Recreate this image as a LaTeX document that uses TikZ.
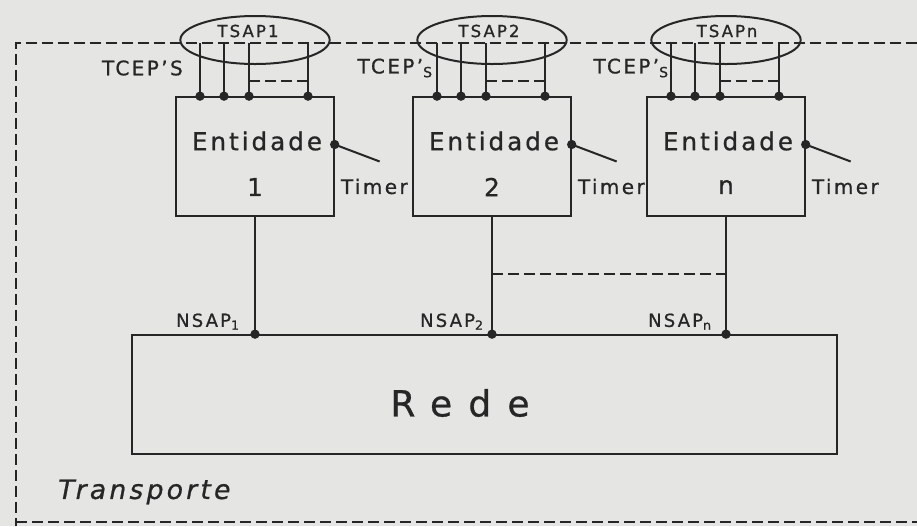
\documentclass[tikz,border=0pt]{standalone}
\usepackage{fontspec}
\setmainfont{DejaVu Sans}
\newfontfamily\handfont[LetterSpace=12,FakeBold=0.8]{DejaVu Sans}
\newfontfamily\redefont[LetterSpace=45,FakeBold=0.8]{DejaVu Sans}
\usetikzlibrary{shapes.geometric,calc}
\definecolor{paper}{RGB}{229,229,227}
\definecolor{ink}{RGB}{38,38,38}
\tikzset{
  link/.style={draw=ink, line width=1.5pt},
  dashlink/.style={link, dash pattern=on 8pt off 4pt},
  entbox/.style={link, rectangle, minimum width=118pt, minimum height=89pt, inner sep=0pt},
  sapring/.style={link, ellipse, minimum width=112pt, minimum height=36pt, inner sep=0pt},
  port/.style={circle, fill=ink, inner sep=0pt, minimum size=7pt},
  hand/.style={text=ink, inner sep=0pt, font=\handfont\fontsize{#1}{#1}\selectfont},
}
\begin{document}
\begin{tikzpicture}[x=0.75pt,y=-0.75pt]
 \fill[paper] (0,0) rectangle (917,526);
 \useasboundingbox (0,0) rectangle (917,526);
 % limite da camada de transporte
 \draw[dashlink] (917,43) -- (16,43) -- (16,526);
 \draw[dashlink] (16,522) -- (917,522);
 \node[hand=20, anchor=west] (camada) at (58,492) {\itshape Transporte};
 % rede
 \node[entbox, minimum width=529pt] (rede) at (484.5,394.5) {};
 \node[font=\redefont\fontsize{27}{27}\selectfont, text=ink] (redelbl) at (460,403) {Rede};
 % entidades
 \foreach \i/\cx/\tsx/\cepx/\cepsub/\nsx in {1/255/248/183/S/240, 2/492/489/433/\textsubscript{S}/484, n/726/727/669/\textsubscript{S}/712} {
   \node[entbox] (ent\i) at (\cx,156.5) {};
   \node[hand=18.5] (entlbl\i) at (\cx+2,141) {Entidade};
   \node[hand=18.5] (num\i) at (\cx,187) {\i};
   \node[sapring] (tsap\i) at (\cx,40) {};
   \node[hand=12.5] (tsaplbl\i) at (\tsx,31) {TSAP\i};
   \foreach \k/\dx in {a/-55,b/-31,c/-6,d/53} {
     \node[port] (cep\i\k) at ($(ent\i.north)+(\dx,0)$) {};
     \coordinate (ceptop\i\k) at (\cx+\dx,43);
     \draw[link] (ceptop\i\k) -- (cep\i\k.center);
   }
   \coordinate (cepdash\i c) at ($(cep\i c)+(0,-15)$);
   \coordinate (cepdash\i d) at ($(cep\i d)+(0,-15)$);
   \draw[dashlink] (cepdash\i c) -- (cepdash\i d);
   \node[hand=15, anchor=east] (ceplbl\i) at (\cepx,68) {TCEP’\cepsub};
   % timer
   \node[port] (tmr\i) at ($(ent\i.east)+(0,-12)$) {};
   \coordinate (tmrend\i) at ($(tmr\i)+(45,17)$);
   \draw[link] (tmr\i.center) -- (tmrend\i);
   \node[hand=15, anchor=west] (tmrlbl\i) at ($(ent\i.east)+(6,30)$) {Timer};
   % acesso a rede
   \node[port] (nsap\i) at (ent\i.south |- rede.north) {};
   \draw[link] (ent\i.south) -- (nsap\i.center);
   \node[hand=13.5, anchor=south east] (nsaplbl\i) at (\nsx,330) {NSAP\textsubscript{\i}};
 }
 \coordinate (mid2) at ($(ent2.south)+(0,57)$);
 \coordinate (midn) at ($(entn.south)+(0,57)$);
 \draw[dashlink] (mid2) -- (midn);
\end{tikzpicture}
\end{document}
